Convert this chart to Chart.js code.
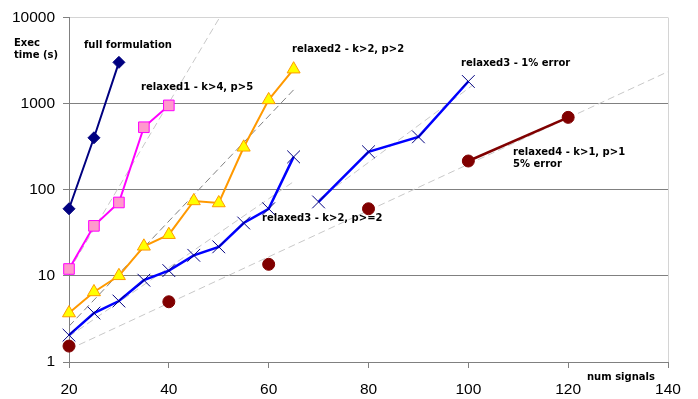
<!DOCTYPE html>
<html><head><meta charset="utf-8">
<script src="https://cdn.jsdelivr.net/npm/chart.js@4/dist/chart.umd.min.js"></script>
<style>html,body{margin:0;padding:0;background:#fff;overflow:hidden}</style>
</head><body>
<canvas id="c" width="698" height="399" style="display:block;width:698px;height:399px"></canvas>
<script>
// ---- data ----
const fullX = [20, 25, 30];
const fullY = [60, 400, 3000];
const rel1X = [20, 25, 30, 35, 40];
const rel1Y = [12, 38, 71, 530, 950];
const rel2X = [20, 25, 30, 35, 40, 45, 50, 55, 60, 65];
const rel2Y = [3.7, 6.5, 10, 22, 30, 74, 70, 310, 1100, 2500];
const rel3X = [20, 25, 30, 35, 40, 45, 50, 55, 60, 65];
const rel3Y = [2.05, 3.7, 5.1, 8.9, 11.5, 17.3, 21.7, 41, 60, 240];
const rel3eX = [70, 80, 90, 100];
const rel3eY = [72, 275, 410, 1800];
const rel4X = [20, 40, 60, 80];
const rel4Y = [1.53, 5.0, 13.6, 60];
const rel4eX = [100, 120];
const rel4eY = [215, 690];
// dashed trend lines (end points)
const trend1X = [20, 50.2];  const trend1Y = [11.4, 10000];
const trend2X = [20, 65];    const trend2Y = [2.6, 1440];
const trend3X = [20, 65];    const trend3Y = [1.98, 124];
const trend3eX = [70, 101];  const trend3eY = [77, 1650];
const trend4X = [20, 140];   const trend4Y = [1.4, 2340];
const yTickValues = [1, 10, 100, 1000, 10000];
const xTickValues = [20, 40, 60, 80, 100, 120, 140];
const labels = [
  {text: 'full formulation', x: 84, y: 45},
  {text: 'relaxed1 - k>4, p>5', x: 141, y: 87},
  {text: 'relaxed2 - k>2, p>2', x: 292, y: 49},
  {text: 'relaxed3 - 1% error', x: 461, y: 63},
  {text: 'relaxed3 - k>2, p>=2', x: 262, y: 218},
  {text: 'relaxed4 - k>1, p>1', x: 513, y: 152},
  {text: '5% error', x: 513, y: 164},
  {text: 'num signals', x: 587, y: 377},
  {text: 'Exec', x: 14, y: 43},
  {text: 'time (s)', x: 14, y: 55}
];

const pts = (xs, ys) => xs.map((x, i) => ({x: x, y: ys[i]}));

function trend(xs, ys, color) {
  return {data: pts(xs, ys), showLine: true, borderColor: color, borderWidth: 1,
    borderDash: [7, 4], pointRadius: 0, pointHoverRadius: 0, fill: false};
}

const datasets = [
  {data: pts(fullX, fullY), showLine: true, clip: false, borderColor: '#000080', borderWidth: 2,
   pointStyle: 'rectRot', pointRadius: 6, backgroundColor: '#000080', pointBorderColor: '#000080', pointBorderWidth: 1},
  {data: pts(rel1X, rel1Y), showLine: true, clip: false, borderColor: '#FF00FF', borderWidth: 2,
   pointStyle: 'rect', pointRadius: 7.5, backgroundColor: '#FF99CC', pointBorderColor: '#FF00FF', pointBorderWidth: 1},
  {data: pts(rel2X, rel2Y), showLine: true, clip: false, borderColor: '#FF9900', borderWidth: 2,
   pointStyle: 'triangle', pointRadius: 7.5, backgroundColor: '#FFFF00', pointBorderColor: '#FF9900', pointBorderWidth: 1},
  {data: pts(rel3X, rel3Y), showLine: true, clip: false, borderColor: '#0000FF', borderWidth: 2.5,
   pointStyle: 'crossRot', pointRadius: 9, pointBorderColor: '#000080', pointBorderWidth: 1, backgroundColor: '#000080'},
  {data: pts(rel3eX, rel3eY), showLine: true, clip: false, borderColor: '#0000FF', borderWidth: 2.5,
   pointStyle: 'crossRot', pointRadius: 9, pointBorderColor: '#000080', pointBorderWidth: 1, backgroundColor: '#000080'},
  {data: pts(rel4X, rel4Y), showLine: false, clip: false,
   pointStyle: 'circle', pointRadius: 6, backgroundColor: '#800000', pointBorderColor: '#800000', pointBorderWidth: 1},
  {data: pts(rel4eX, rel4eY), showLine: true, clip: false, borderColor: '#800000', borderWidth: 2.5,
   pointStyle: 'circle', pointRadius: 6, backgroundColor: '#800000', pointBorderColor: '#800000', pointBorderWidth: 1},
  trend(trend1X, trend1Y, '#C8C8C8'),
  trend(trend2X, trend2Y, '#808080'),
  trend(trend3X, trend3Y, '#C8C8C8'),
  trend(trend3eX, trend3eY, '#C8C8C8'),
  trend(trend4X, trend4Y, '#C8C8C8')
];

const decor = {
  id: 'decor',
  beforeDatasetsDraw(chart) {
    const {ctx, chartArea: a} = chart;
    ctx.save();
    ctx.strokeStyle = '#D4D4D4';
    ctx.lineWidth = 1;
    ctx.beginPath();
    ctx.moveTo(Math.round(a.right) + 0.5, Math.round(a.top) + 0.5);
    ctx.lineTo(Math.round(a.right) + 0.5, Math.round(a.bottom));
    ctx.stroke();
    ctx.restore();
  },
  afterDraw(chart) {
    const ctx = chart.ctx;
    ctx.save();
    ctx.font = 'bold 10px "DejaVu Sans"';
    ctx.fillStyle = '#000';
    ctx.textAlign = 'left';
    ctx.textBaseline = 'middle';
    labels.forEach(l => ctx.fillText(l.text, l.x, l.y));
    ctx.restore();
  }
};

new Chart(document.getElementById('c'), {
  type: 'scatter',
  data: {datasets: datasets},
  options: {
    responsive: false,
    devicePixelRatio: 1,
    animation: false,
    events: [],
    layout: {padding: {left: 0, right: 30, top: 16, bottom: 0}},
    plugins: {legend: {display: false}, tooltip: {enabled: false}},
    scales: {
      x: {
        type: 'linear', min: 20, max: 140,
        afterBuildTicks: s => { s.ticks = xTickValues.map(v => ({value: v})); },
        afterFit: s => { s.height = 37; },
        ticks: {color: '#000', font: {family: '"Liberation Sans"', size: 15.5}, padding: 12, maxRotation: 0, autoSkip: false},
        grid: {drawOnChartArea: false, drawTicks: true, tickLength: 6, color: '#808080'},
        border: {color: '#808080', width: 1}
      },
      y: {
        type: 'logarithmic', min: 1, max: 10000,
        afterBuildTicks: s => { s.ticks = yTickValues.map(v => ({value: v})); },
        afterFit: s => { s.width = 69; },
        ticks: {color: '#000', font: {family: '"Liberation Sans"', size: 15.5}, padding: 8,
          callback: v => String(v)},
        grid: {color: c => (c.tick && c.tick.value === 10000) ? '#D4D4D4' : '#808080',
          tickColor: '#808080', tickLength: 6, drawTicks: true},
        border: {color: '#808080', width: 1}
      }
    }
  },
  plugins: [decor]
});
</script>
</body></html>
